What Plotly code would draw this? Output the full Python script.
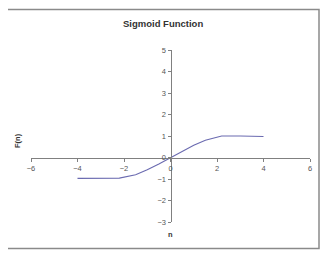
import plotly.graph_objects as go

n_vals = [-4, -3, -2.2, -1.5, -1, -0.5, 0, 0.5, 1, 1.5, 2.2, 3, 4]
f_vals = [-0.97, -0.97, -0.96, -0.8, -0.57, -0.3, 0, 0.3, 0.57, 0.8, 1.0, 1.0, 0.98]
x_ticks = [-6, -4, -2, 0, 2, 4, 6]
y_ticks = [-3, -2, -1, 0, 1, 2, 3, 4, 5]

OFF = 8  # page body margin
W, H = 330, 257
L, R, T, B = 31 - OFF, 20 + OFF, 50 - OFF, 35 + OFF
pw, ph = W - L - R, H - T - B

def px(p):
    return (p - OFF - L) / pw

def py(p):
    return (H - B - (p - OFF)) / ph

fig = go.Figure()
fig.add_trace(go.Scatter(x=n_vals, y=f_vals, mode="lines",
                         line=dict(color="#6a6ab0", width=1.1),
                         showlegend=False, hoverinfo="skip"))

axis_font = dict(family="Liberation Sans, Arial, sans-serif", size=7.5, color="#555555")
fig.update_layout(
    width=W, height=H,
    margin=dict(l=L, r=R, t=T, b=B),
    paper_bgcolor="white", plot_bgcolor="white",
    xaxis=dict(range=[-6, 6], tickvals=x_ticks, anchor="free", position=3 / 8,
               showline=True, linecolor="#808080", linewidth=1,
               ticks="outside", ticklen=3, tickcolor="#808080",
               showgrid=False, zeroline=False, tickfont=axis_font),
    yaxis=dict(range=[-3, 5], tickvals=y_ticks, anchor="free", position=0.5,
               showline=True, linecolor="#808080", linewidth=1,
               ticks="outside", ticklen=3, tickcolor="#808080",
               showgrid=False, zeroline=False, tickfont=axis_font),
    shapes=[dict(type="rect", xref="paper", yref="paper",
                 x0=px(5), x1=px(319), y0=py(248.5), y1=py(9.5),
                 line=dict(color="#8a8a8a", width=1.5))],
    annotations=[
        dict(text="<b>Sigmoid Function</b>", xref="paper", yref="paper",
             x=px(163), y=py(24), xanchor="center", yanchor="middle", showarrow=False,
             font=dict(family="Liberation Sans, Arial, sans-serif", size=9.5, color="#333333")),
        dict(text="<b>F(n)</b>", xref="paper", yref="paper", textangle=-90,
             x=px(17), y=py(141), xanchor="center", yanchor="middle", showarrow=False,
             font=dict(family="Liberation Sans, Arial, sans-serif", size=7.5, color="#333333")),
        dict(text="<b>n</b>", xref="paper", yref="paper",
             x=px(170), y=py(235), xanchor="center", yanchor="middle", showarrow=False,
             font=dict(family="Liberation Sans, Arial, sans-serif", size=7.5, color="#333333")),
    ],
)

fig.write_html("out.html")
